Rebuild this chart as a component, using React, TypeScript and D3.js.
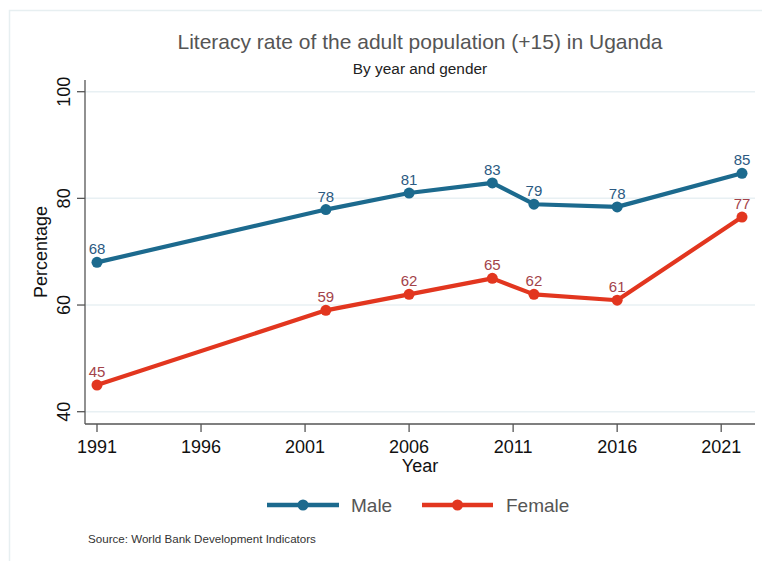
import React from "react";
import * as d3 from "d3";

const years = [1991, 2002, 2006, 2010, 2012, 2016, 2022];
const maleValues = [68.0, 77.9, 81.0, 82.9, 78.9, 78.4, 84.7];
const femaleValues = [45.0, 59.0, 62.0, 65.0, 62.0, 60.9, 76.5];
const xTicks = [1991, 1996, 2001, 2006, 2011, 2016, 2021];
const yTicks = [40, 60, 80, 100];
const seriesNames = ["Male", "Female"];

const W = 762;
const H = 561;
const FONT = "'Liberation Sans', Arial, Helvetica, sans-serif";

const MALE_LINE = "#1c6a8e";
const FEMALE_LINE = "#e2361f";
const MALE_LABEL = "#2b5a82";
const FEMALE_LABEL = "#a3434a";

export default function App() {
  const x = d3.scaleLinear().domain([1991, 2022]).range([97, 742]);
  const y = d3.scaleLinear().domain([40, 100]).range([411.7, 91.7]);
  const axisLeft = 85;
  const axisRight = 755;
  const axisBottom = 424;
  const axisTop = 80;

  const line = d3
    .line<number>()
    .x((_, i) => x(years[i]))
    .y((d) => y(d));

  const series = [
    { name: seriesNames[0], values: maleValues, color: MALE_LINE, label: MALE_LABEL },
    { name: seriesNames[1], values: femaleValues, color: FEMALE_LINE, label: FEMALE_LABEL },
  ];

  const legendItems = [
    { name: seriesNames[0], color: MALE_LINE, x0: 267, x1: 339, tx: 351 },
    { name: seriesNames[1], color: FEMALE_LINE, x0: 422, x1: 493, tx: 506 },
  ];

  return (
    <svg
      width={W}
      height={H}
      style={{ position: "absolute", left: 0, top: 0, background: "#fff" }}
      fontFamily={FONT}
    >
      <rect x={0} y={0} width={W} height={H} fill="#fff" />
      <rect
        x={9.5}
        y={10.5}
        width={W + 20}
        height={H + 20}
        fill="none"
        stroke="#e7eff1"
        strokeWidth={1.5}
      />
      {/* gridlines */}
      {yTicks.map((t) => (
        <line
          key={"g" + t}
          x1={axisLeft}
          x2={axisRight}
          y1={y(t)}
          y2={y(t)}
          stroke="#e8f0f3"
          strokeWidth={1.5}
        />
      ))}
      {/* axes */}
      <line x1={axisLeft} x2={axisLeft} y1={axisTop} y2={axisBottom} stroke="#555" strokeWidth={1.3} />
      <line x1={axisLeft} x2={axisRight} y1={axisBottom} y2={axisBottom} stroke="#555" strokeWidth={1.3} />
      {yTicks.map((t) => (
        <g key={"yt" + t}>
          <line x1={axisLeft - 8} x2={axisLeft} y1={y(t)} y2={y(t)} stroke="#555" strokeWidth={1.3} />
          <text
            transform={`translate(70,${y(t)}) rotate(-90)`}
            textAnchor="middle"
            fontSize={18}
            fill="#111"
          >
            {t}
          </text>
        </g>
      ))}
      {xTicks.map((t) => (
        <g key={"xt" + t}>
          <line x1={x(t)} x2={x(t)} y1={axisBottom} y2={axisBottom + 8} stroke="#555" strokeWidth={1.3} />
          <text x={x(t)} y={453} textAnchor="middle" fontSize={18} fill="#111">
            {t}
          </text>
        </g>
      ))}
      <text x={420} y={471.5} textAnchor="middle" fontSize={18} fill="#111">
        Year
      </text>
      <text
        transform={`translate(47,252) rotate(-90)`}
        textAnchor="middle"
        fontSize={18}
        fill="#111"
      >
        Percentage
      </text>
      {/* titles */}
      <text x={420} y={49} textAnchor="middle" fontSize={21} fill="#555">
        Literacy rate of the adult population (+15) in Uganda
      </text>
      <text x={420} y={74} textAnchor="middle" fontSize={15.4} fill="#222">
        By year and gender
      </text>
      {/* series */}
      {series.map((s) => (
        <g key={s.name}>
          <path d={line(s.values) || ""} fill="none" stroke={s.color} strokeWidth={4.2} strokeLinejoin="round" />
          {s.values.map((v, i) => (
            <circle key={i} cx={x(years[i])} cy={y(v)} r={5.5} fill={s.color} />
          ))}
          {s.values.map((v, i) => (
            <text
              key={"l" + i}
              x={x(years[i])}
              y={y(v) - 8}
              textAnchor="middle"
              fontSize={15}
              fill={s.label}
            >
              {Math.round(v)}
            </text>
          ))}
        </g>
      ))}
      {/* legend */}
      {legendItems.map((l) => (
        <g key={"lg" + l.name}>
          <line x1={l.x0} x2={l.x1} y1={505} y2={505} stroke={l.color} strokeWidth={4.5} />
          <circle cx={(l.x0 + l.x1) / 2} cy={505} r={5.5} fill={l.color} />
          <text x={l.tx} y={512} fontSize={19} fill="#555">
            {l.name}
          </text>
        </g>
      ))}
      <text x={88} y={542.5} fontSize={11.6} fill="#333">
        Source: World Bank Development Indicators
      </text>
    </svg>
  );
}
